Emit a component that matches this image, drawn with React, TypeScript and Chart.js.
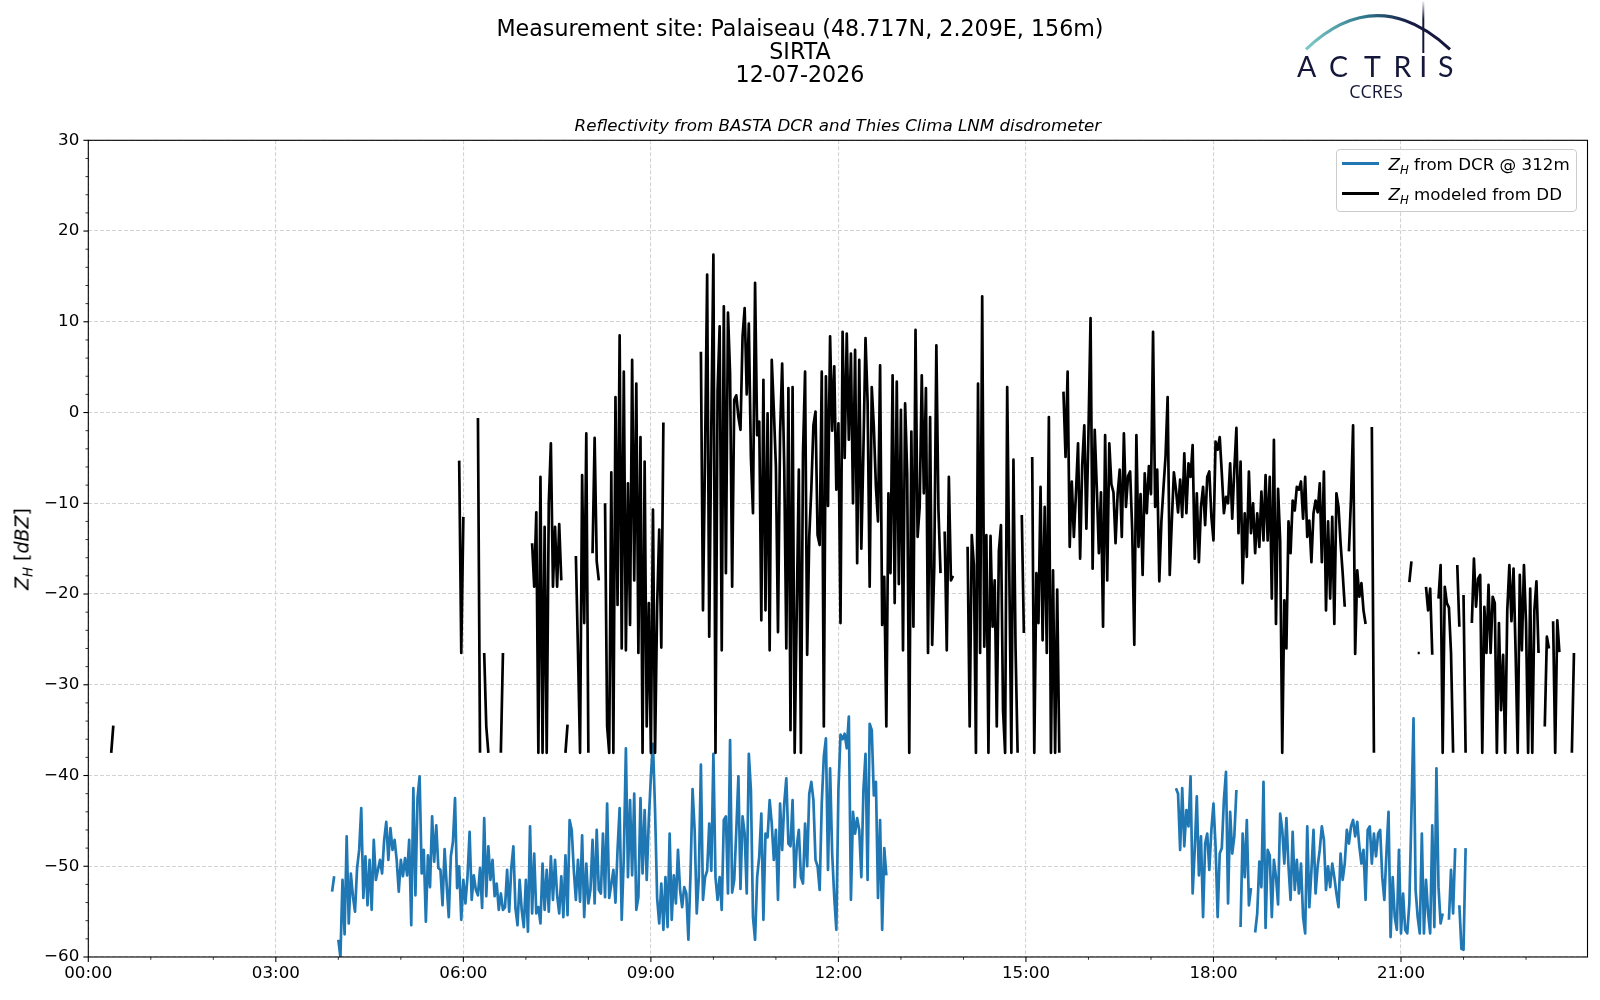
import React, { useEffect, useRef } from "react";
import { Chart, registerables, type ChartConfiguration, type Plugin } from "chart.js";

Chart.register(...registerables);

// time step of the sampled series, in minutes
const STEP_MIN = 2;

// Z_H modeled from disdrometer (dBZ), segments start at the given minute of day
const ddStarts = [22, 356, 588];
const ddNight = [-37.5, -34.5];
const ddMorning = [
  -5.3, -26.5, -11.5, null, null, null, null, null, null, -0.6, -37.5, null, -26.5, -34.6,
  -37.5, null, null, null, null, null, -37.5, -26.5, null, null, null, null, null, null, null, null, null, null, null, null, null,
  -14.4, -19.2, -11, -37.5, -7.1, -37.5, -12.6, -37.5, -10, -3.4, -19.2, -12.6, -19.2, -12.3, -18.5,
  null, -37.5, -34.4, null, null, null, -15.8, -26.2, -37.5, -6.9, -23.2, -2.3, -37.5, null, -15.5, -2.8, -16.4, -18.5, null, null,
  -10, -34.6, -37.5, -6.6, -37.5, 1.7, -21.2, 8.5, -26, 4.5, -26.2, -7.8, -23.4, 5.8, -18.5,
  3.2, -26.5, -2.7, -37.5, -5.4, -34.6, -21, -37.5, -10.7, -37.5, -21.3, -12.9, -25.9, -1.1,
];
const ddDay = [
  6.7, -21.8, -4.5, 15.2, -24.7, -1.7, 17.4, -37.5, 2.3, 9.5, -26.2, 11.7, -17.7, 11, 4.3,
  -19.2, 1.4, 1.9, -0.5, -1.9, 8.4, 11.5, 2, 9.8, -4.9, -11.1, 14.3, -2.5, -1, -22.9,
  3.6, -21.8, -0.1, -26.2, 5.8, 0.3, -6, -24.2, -2.4, 5.4, -6, -26, 2.7, -35, 2.8,
  -37.5, -21.8, -6.3, -37.5, -4.5, 4.5, -26.7, -13.7, -8.4, -1.4, 0.1, -13.5, -14.6, 4.5, -34.6,
  4, -10.3, 8.4, -2, 5.1, -8.5, -1.2, -23.2, 8.9, -5, 8.7, -3, 6.5, -10, 6.9,
  -16.6, 5.8, -15, -4.1, 8.2, 1.2, -19.2, 2.8, -1.6, -8.2, -12, 5.2, -23.4, -18.1, -34.6,
  -8.9, -17.7, 4.1, -21, 3.4, -18.9, 0.3, -26.2, 1, -6.7, -37.5, -2.1, -23.6, 9.1, -13.7,
  -10.4, 4.1, -8.9, 2.7, -26.5, -0.5, -25.6, -17, 7.4, -10.7, -17.7, null, -13.1, -26.2, -7.1,
  -18.5, -18, null, null, null, null, null, null, -14.8, -34.6, -13.5, -16.8, -37.5, 3.2, -26.5,
  12.8, -25.8, -13.5, -37.5, -13.6, -23.6, -18.5, -34.6, -15.3, -12.4, -32.8, -37.5, 2.8, -17.4, -37.5,
  -5.2, -25.8, -37.5, null, -11.3, -24.3, null, null, null, -4.9, -37.5, -17.7, -23.2, -8.2, -25.1,
  -10.4, -26.5, -0.5, -37.5, -17.4, -37.5, -19.5, -37.5, null, 2.3, -4.9, 4.5, -14.8, -7.6, -13.7,
  -8.9, -3.4, -16.1, -5.8, -1.4, -12.8, -2.3, 10.4, -17.2, -1.9, -8.3, -15.5, -8.8, -23.6, -2.5,
  -18.5, -3.4, -7.9, -8.8, -14.4, -9, -6.3, -13.7, -2.3, -10.4, -7, -6.5, -13, -25.6, -2.5,
  -14.8, -9, -17.9, -6.7, -11.1, -5.9, -9, 8.9, -10.4, -6.3, -18.6, -12, -8.3, -4.8, 1.7,
  -17.9, -12, -6.6, -8.5, -11, -7.4, -11.5, -4.5, -11.1, -5.6, -7.1, -3.6, -16.1, -8.9, -16.5,
  -10.4, -8.2, -12.4, -7.1, -6.5, -11.5, -14.1, -3.2, -4.1, -2.7, -6.7, -11.1, -9.3, -10, -5.6,
  -11.7, -6.3, -1.7, -13.3, -5.4, -18.8, -11.1, -15.9, -6.5, -13.3, -10, -15.5, -11.1, -14.8, -8.7,
  -14.1, -6.9, -14.1, -7.1, -20.5, -3, -23.3, -8.4, -14.1, -37.5, -20.7, -26, -12, -15.5, -9.7,
  -10.8, -8.2, -8.5, -7.6, -11.7, -7.1, -13.7, -11.9, -16.5, -11.1, -9.7, -11, -7.8, -16.5, -6.5,
  -21.8, -12, -20.5, -11.5, -23.3, -8.9, -10.4, -14.4, -17.7, -21.4, null, -15.3, -9.5, -1.4, -26.6,
  -17.4, -20.3, -18.8, -21.8, -23.3, null, null, -1.6, -37.5, null, null, null, null, null, null,
  null, null, null, null, null, null, null, null, null, null, -18.7, -16.4, null, null, -26.5,
  -26.5, null, null, -19.2, -21.8, -19.4, -26.7, null, null, -20.5, -16.8, -37.5, -19.2, -21, -21.5,
  -26.5, -37.5, null, -16.8, -23.6, null, -20.1, -37.5, null, null, -23.2, -16.1, -21.4, -18.3, -17.9,
  -37.5, -21.4, -26.5, -19, -26.5, -20.3, -21, -37.5, -23.2, -32.8, -26.7, -37.5, -21.8, -16.8, -23,
  -17.2, -26.4, -37.5, -17.9, -26.2, -16.8, -23.2, -37.5, -19.4, -37.5, -21.8, -18.6, -26.5, null, null,
  -34.6, -24.7, -26, null, -23, -37.5, -22.9, -26.4, null, null, null, null, null, -37.5, -26.5,
];

// Z_H from DCR at 312 m (dBZ)
const dcrStarts = [234, 1044];
const dcrMorning = [
  -52.8, -51.1, null, -58.1, -60, -51.5, -57.5, -46.7, -56.3, -50.8, -53.3, -55, -50.2, -48.2, -43.6,
  -53.5, -48.9, -54.3, -49.3, -54.8, -47.1, -51.5, -50.4, -49.3, -50.8, -47.1, -45.1, -49.3, -45.8, -48.2,
  -47.1, -49.3, -52.8, -49.3, -51.1, -49.1, -51, -47.1, -56.5, -41.4, -53.2, -42.5, -40.1, -50.8, -48.2,
  -56.1, -48.8, -52.3, -44.5, -49.5, -45.5, -50.2, -50.4, -54.3, -48.1, -52.1, -55.6, -48.9, -47.3, -42.5,
  -52.4, -50, -55.9, -51.5, -54.1, -51.1, -46.2, -53.7, -51, -52.6, -53.2, -50.2, -54.6, -44.7, -53.3,
  -47.8, -51.5, -49.3, -53.3, -51.9, -54.8, -53, -54.8, -54.5, -50.4, -55, -50.2, -47.8, -54.6, -56.5,
  -51.5, -54.8, -56.7, -51.5, -57.2, -45.6, -55.2, -48.6, -55.2, -54.5, -56.3, -49.7, -54.8, -50.4, -55,
  -48.9, -53.7, -49.3, -53.2, -55.2, -51.1, -55.6, -48.8, -55.4, -44.9, -46, -50.4, -53.7, -49.3, -53.9,
  -46.6, -55.6, -49.7, -54.1, -52.6, -47.1, -54.1, -46, -52.6, -53, -46.4, -53.4, -43.1, -53.5, -52,
  -50.4, -54, -48.2, -43.6, -55.9, -49, -37, -51.2, -42.7, -51, -42, -54.8, -53.4, -42.5, -50.8,
  -43.8, -51.5, -44.9, -40.1, -36.5, -43.8, -53.5, -56.3, -51.9, -57, -51.2, -56.7, -46.4, -55.9, -51,
  -54.1, -48.2, -52.6, -54.5, -52.3, -53, -58.1, -51, -41.5, -46, -55.2, -51.2, -38.8, -53.7, -51.2,
  -50.5, -45.3, -50.5, -37.6, -51.2, -53.7, -51.2, -54.8, -44.9, -44.5, -53, -36.1, -52.9, -51.5, -46,
  -40.1, -52.5, -44.5, -46.4, -53, -37.6, -41.6, -55.6, -58.1, -51.2, -48.9, -44.2, -55.9, -46.4, -46.8,
  -42.7, -45.3, -49.3, -46, -53.7, -43.1, -48.2, -43.1, -40.3, -47.5, -47.8, -42.7, -52.3, -47.8, -46,
  -51.2, -51.9, -45.3, -50, -42, -40.7, -42.7, -49.3, -50, -52.6, -43.1, -37.9, -35.9, -50.4, -39.2,
  -48.6, -53.4, -57, -41.6, -35.5, -36, -35.4, -37, -33.5, -53.7, -44, -46.4, -44.7, -46, -51.2,
  -41.6, -37.6, -51.5, -34.3, -35, -42.2, -40.7, -53.5, -44.9, -57, -48, -51,
];
const dcrEvening = [
  -41.4, -42, -48.2, -41.4, -47.8, -43.8, -45.6, -40.1, -53, -48.2, -42.3, -51, -46.7, -55.6, -47.5,
  -46.4, -50.4, -46, -43.1, -47.8, -55.6, -48.6, -48, -42.7, -39.6, -54.1, -44, -48.6, -46.7, -41.6,
  null, -56.7, -46.4, -51.2, -44.9, -54.3, -52.4, null, -57.3, -55.2, -49.5, -52.3, -40.7, -56.8, -48.2,
  -48.8, -55.6, -49.3, -51.2, -54.2, -44.2, -46, -49.7, -44.7, -50, -53.7, -46.2, -52.6, -49.3, -53,
  -49.7, -55.6, -57.4, -45.6, -54.5, -50.5, -46, -53, -50, -48.2, -45.6, -47.1, -52.6, -50, -52.3,
  -49.7, -51.2, -53, -54.5, -48.6, -51.5, -49.7, -46, -47.5, -45.6, -44.9, -46.7, -45.1, -47.8, -49.7,
  -48.2, -53.7, -46, -45.6, -49.7, -46.4, -48.9, -46.4, -46, -51.2, -53.7, -48.6, -44, -57.8, -51.2,
  -55.6, -57, -48.2, -57.4, -53, -57, -57.4, -54.1, -44.2, -33.7, -52.6, -55.6, -57.4, -46.4, -57.4,
  -51.5, -55.2, -57.4, -45.5, -56.7, -39.2, -52.3, -56.3, -55.2, null, null, -55.9, -50.4, -55.2, -48,
  null, -54.3, -59.1, -59.2, -48,
];

// axes
const xMajorTicks = [0, 180, 360, 540, 720, 900, 1080, 1260];
const xMax = 1439;
const yMin = -60;
const yMax = 30;

const FONT = "'DejaVu Sans', sans-serif";
const GRID = "#d3d3d3";
const LINE_W = 2.7;

function toPoints(starts: number[], segments: (number | null)[][]) {
  const pts: { x: number; y: number | null }[] = [];
  segments.forEach((seg, i) => {
    if (i > 0) pts.push({ x: starts[i] - 1, y: null });
    seg.forEach((v, k) => pts.push({ x: starts[i] + k * STEP_MIN, y: v }));
  });
  return pts;
}

const hhmm = (m: number) =>
  `${String(Math.floor(m / 60)).padStart(2, "0")}:${String(m % 60).padStart(2, "0")}`;

// full box + matplotlib-like major/minor ticks
const frameTicks: Plugin<"line"> = {
  id: "frameTicks",
  afterDraw(chart) {
    const { ctx, chartArea: a, scales } = chart;
    const xs = scales.x;
    const ys = scales.y;
    ctx.save();
    ctx.strokeStyle = "#000";
    ctx.lineWidth = 1.1;
    ctx.strokeRect(a.left, a.top, a.right - a.left, a.bottom - a.top);
    for (let m = 0; m <= xMax; m += 60) {
      const major = m % 180 === 0;
      const px = xs.getPixelForValue(m);
      ctx.lineWidth = major ? 1.1 : 0.8;
      ctx.beginPath();
      ctx.moveTo(px, a.bottom);
      ctx.lineTo(px, a.bottom + (major ? 4.9 : 2.8));
      ctx.stroke();
    }
    for (let v = yMin; v <= yMax; v += 2) {
      const major = v % 10 === 0;
      const py = ys.getPixelForValue(v);
      ctx.lineWidth = major ? 1.1 : 0.8;
      ctx.beginPath();
      ctx.moveTo(a.left, py);
      ctx.lineTo(a.left - (major ? 4.9 : 2.8), py);
      ctx.stroke();
    }
    ctx.restore();
  },
};

function ZH() {
  return (
    <>
      <i>Z</i>
      <i style={{ fontSize: "0.7em", position: "relative", top: "0.32em" }}>H</i>
    </>
  );
}

export default function App() {
  const canvasRef = useRef<HTMLCanvasElement | null>(null);
  const chartRef = useRef<Chart | null>(null);

  useEffect(() => {
    if (!canvasRef.current) return;
    if (chartRef.current) chartRef.current.destroy();

    const config: ChartConfiguration<"line"> = {
      type: "line",
      data: {
        datasets: [
          {
            label: "Z_H from DCR @ 312m",
            data: toPoints(dcrStarts, [dcrMorning, dcrEvening]) as any,
            borderColor: "#1f77b4",
            borderWidth: LINE_W,
            pointRadius: 0,
            spanGaps: false,
            borderJoinStyle: "round",
            order: 2,
          },
          {
            label: "Z_H modeled from DD",
            data: toPoints(ddStarts, [ddNight, ddMorning, ddDay]) as any,
            borderColor: "#000000",
            borderWidth: LINE_W,
            pointRadius: 0,
            spanGaps: false,
            borderJoinStyle: "round",
            order: 1,
          },
        ],
      },
      options: {
        animation: false,
        responsive: false,
        devicePixelRatio: 1,
        layout: { padding: { left: 0, top: 140.3, right: 12.5, bottom: 0 } },
        plugins: {
          legend: { display: false },
          tooltip: { enabled: false },
        },
        scales: {
          x: {
            type: "linear",
            min: 0,
            max: xMax,
            afterBuildTicks: (axis) => {
              axis.ticks = xMajorTicks.map((v) => ({ value: v }));
            },
            afterFit: (scale) => {
              scale.height = 43;
            },
            ticks: {
              callback: (v) => hhmm(Number(v)),
              font: { family: FONT, size: 16.7 },
              color: "#000",
              padding: 7,
              maxRotation: 0,
              autoSkip: false,
            },
            grid: { color: GRID, lineWidth: 1.1, drawTicks: false },
            border: { display: false, dash: [4, 2] },
          },
          y: {
            type: "linear",
            min: yMin,
            max: yMax,
            afterFit: (scale) => {
              scale.width = 88.3;
            },
            ticks: {
              stepSize: 10,
              callback: (v) => String(v).replace("-", "\u2212"),
              font: { family: FONT, size: 16.7 },
              color: "#000",
              padding: 9,
            },
            grid: { color: GRID, lineWidth: 1.1, drawTicks: false },
            border: { display: false, dash: [4, 2] },
          },
        },
      },
      plugins: [frameTicks],
    };

    chartRef.current = new Chart(canvasRef.current, config);

    return () => {
      if (chartRef.current) {
        chartRef.current.destroy();
        chartRef.current = null;
      }
    };
  }, []);

  return (
    <div
      style={{
        position: "fixed",
        left: 0,
        top: 0,
        width: 1600,
        height: 1000,
        background: "#fff",
        fontFamily: FONT,
        color: "#000",
        overflow: "hidden",
      }}
    >
      <canvas
        ref={canvasRef}
        width={1600}
        height={1000}
        style={{ position: "absolute", left: 0, top: 0, width: 1600, height: 1000 }}
      />

      {/* figure title */}
      <div
        style={{
          position: "absolute",
          left: 0,
          top: 17,
          width: 1600,
          textAlign: "center",
          fontSize: 22.2,
          lineHeight: "23px",
        }}
      >
        <div>Measurement site: Palaiseau (48.717N, 2.209E, 156m)</div>
        <div>SIRTA</div>
        <div>12-07-2026</div>
      </div>

      {/* axes title */}
      <div
        style={{
          position: "absolute",
          left: 88.3,
          width: 1499.2,
          top: 115,
          textAlign: "center",
          fontSize: 16.7,
          lineHeight: "20px",
          fontStyle: "italic",
        }}
      >
        Reflectivity from BASTA DCR and Thies Clima LNM disdrometer
      </div>

      {/* y label */}
      <div
        style={{
          position: "absolute",
          left: 22.5,
          top: 549,
          transform: "translate(-50%, -50%) rotate(-90deg)",
          whiteSpace: "nowrap",
          fontSize: 19,
          lineHeight: "22px",
        }}
      >
        <ZH /> [<i>dBZ</i>]
      </div>

      {/* legend */}
      <div
        style={{
          position: "absolute",
          left: 1336,
          top: 149,
          width: 241,
          height: 63,
          boxSizing: "border-box",
          border: "1px solid #cccccc",
          borderRadius: 4,
          background: "rgba(255,255,255,0.8)",
          fontSize: 16.7,
        }}
      >
        {[
          { color: "#1f77b4", text: " from DCR @ 312m", cy: 14.3 },
          { color: "#000000", text: " modeled from DD", cy: 43.9 },
        ].map((row) => (
          <React.Fragment key={row.text}>
            <div
              style={{
                position: "absolute",
                left: 5,
                top: row.cy - LINE_W / 2 - 0.5,
                width: 36.5,
                height: LINE_W,
                background: row.color,
              }}
            />
            <div
              style={{
                position: "absolute",
                left: 51.5,
                top: row.cy - 11,
                lineHeight: "22px",
                whiteSpace: "pre",
              }}
            >
              <ZH />
              {row.text}
            </div>
          </React.Fragment>
        ))}
      </div>

      {/* logo */}
      <svg
        width={1600}
        height={110}
        style={{ position: "absolute", left: 0, top: 0, pointerEvents: "none" }}
      >
        <defs>
          <linearGradient id="arcGrad" x1="1306" y1="0" x2="1450" y2="0" gradientUnits="userSpaceOnUse">
            <stop offset="0" stopColor="#7fcac8" />
            <stop offset="0.4" stopColor="#2f7a8e" />
            <stop offset="0.72" stopColor="#171a44" />
            <stop offset="1" stopColor="#14163a" />
          </linearGradient>
          <linearGradient id="poleGrad" x1="0" y1="0" x2="0" y2="55" gradientUnits="userSpaceOnUse">
            <stop offset="0" stopColor="#ffffff" />
            <stop offset="0.35" stopColor="#14163a" />
            <stop offset="1" stopColor="#14163a" />
          </linearGradient>
        </defs>
        <path d="M1306 49.3 Q1377 -18 1450 49.3" fill="none" stroke="url(#arcGrad)" strokeWidth={3} />
        <line x1={1423.3} y1={1} x2={1423.3} y2={53} stroke="url(#poleGrad)" strokeWidth={2} />
        <text
          x="1306.7 1338.5 1372.5 1402.5 1423.3 1445.7"
          y={77.3}
          textAnchor="middle"
          fontFamily="Lato, 'Open Sans', sans-serif"
          fontSize={28.5}
          fill="#14163a"
        >
          ACTRIS
        </text>
        <text
          x={1376}
          y={98.3}
          textAnchor="middle"
          fontFamily="'Open Sans', sans-serif"
          fontSize={18}
          fill="#14163a"
        >
          CCRES
        </text>
      </svg>
    </div>
  );
}
